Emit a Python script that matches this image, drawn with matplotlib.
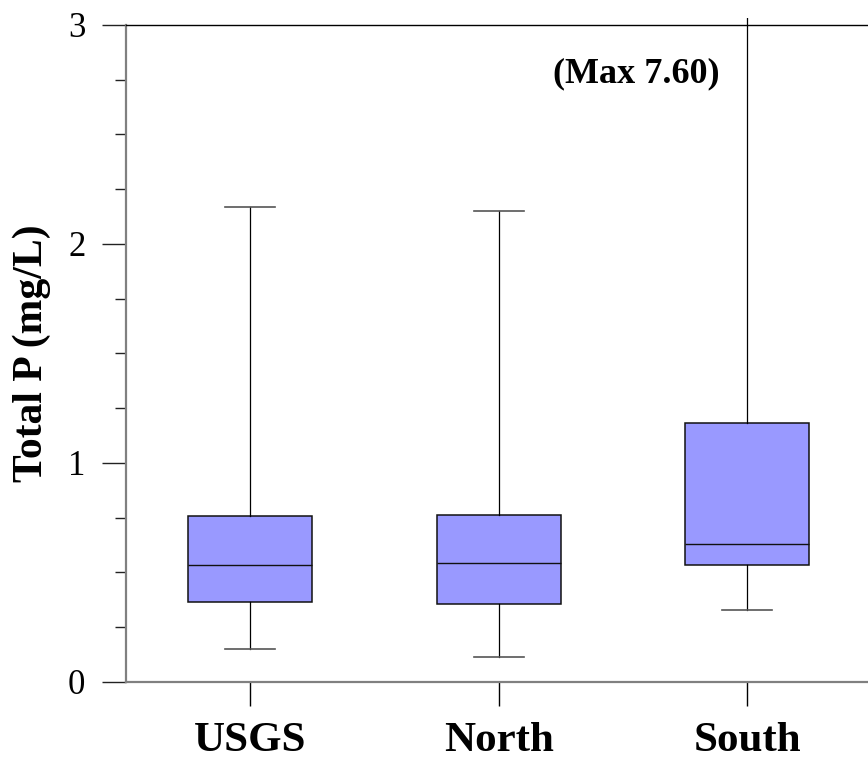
import matplotlib
matplotlib.use("Agg")
import matplotlib.pyplot as plt
from matplotlib.transforms import Bbox, TransformedBbox

# station groups and their box statistics (mg/L)
sites = ["USGS", "North", "South"]
q1 = [0.362, 0.353, 0.533]
median = [0.533, 0.542, 0.629]
q3 = [0.758, 0.760, 1.181]
low = [0.149, 0.111, 0.329]
high = [2.168, 2.150, 7.60]
max_note = "(Max 7.60)"

plt.rcParams["font.family"] = ["Liberation Serif", "DejaVu Serif"]

fig = plt.figure(figsize=(8.68, 7.61), dpi=100)
ax = fig.add_axes([0.1448, 0.1042, 0.8594, 0.8630])

stats = []
for i in range(len(sites)):
    stats.append({"med": median[i], "q1": q1[i], "q3": q3[i],
                  "whislo": low[i], "whishi": high[i], "label": sites[i]})

pos = [1, 2, 3]
parts = ax.bxp(stats, positions=pos, widths=0.5, capwidths=0.2, showfliers=False,
               patch_artist=True,
               boxprops=dict(facecolor="#9999ff", edgecolor="#111111", linewidth=1.1),
               medianprops=dict(color="#111111", linewidth=1.0),
               whiskerprops=dict(color="black", linewidth=0.9),
               capprops=dict(color="#555555", linewidth=1.2))

# whiskers poke a little past the top frame, like the original
clip = TransformedBbox(Bbox([[0, 0], [1, 1.01]]), ax.transAxes)
for w in parts["whiskers"]:
    w.set_clip_box(clip)

ax.set_xlim(0.5, 3.5)
ax.set_ylim(0, 3)
ax.set_yticks([0, 1, 2, 3])
ax.set_yticks([0.25, 0.5, 0.75, 1.25, 1.5, 1.75, 2.25, 2.5, 2.75], minor=True)
ax.set_xticks(pos)
ax.set_xticklabels(sites, fontsize=31, fontweight="bold")
ax.tick_params(axis="y", which="major", length=17, width=1.0, color="#222222",
               labelsize=25, pad=12, direction="out")
ax.tick_params(axis="y", which="minor", length=8, width=1.0, color="#222222",
               direction="out")
ax.tick_params(axis="x", length=17, width=1.0, color="black", pad=12,
               direction="out")

for s in ["left", "bottom"]:
    ax.spines[s].set_color("#808080")
    ax.spines[s].set_linewidth(1.6)
ax.spines["top"].set_color("black")
ax.spines["top"].set_linewidth(1.0)
ax.spines["right"].set_visible(False)

ax.set_ylabel("Total P (mg/L)", fontsize=30, fontweight="bold", labelpad=12)

ax.text(pos[2] - 0.11, 2.776, max_note, fontsize=26, fontweight="bold",
        ha="right", va="center")

fig.savefig("out.png", dpi=100)
